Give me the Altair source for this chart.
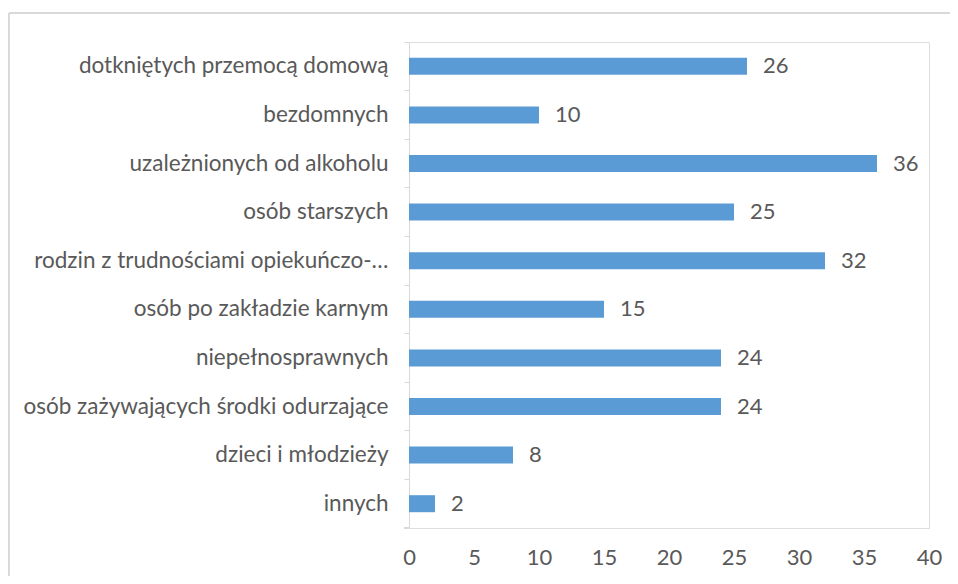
import altair as alt
import pandas as pd

categories = [
    "dotkniętych przemocą domową",
    "bezdomnych",
    "uzależnionych od alkoholu",
    "osób starszych",
    "rodzin z trudnościami opiekuńczo-…",
    "osób po zakładzie karnym",
    "niepełnosprawnych",
    "osób zażywających środki odurzające",
    "dzieci i młodzieży",
    "innych",
]
values = [26, 10, 36, 25, 32, 15, 24, 24, 8, 2]
x_ticks = [0, 5, 10, 15, 20, 25, 30, 35, 40]

df = pd.DataFrame({"kategoria": categories, "liczba": values})

FONT = "Lato"
TXT = "#595959"
BAR = "#5B9BD5"
GRID = "#D9D9D9"

W, H = 520, 486

y_enc = alt.Y(
    "kategoria:N",
    sort=categories,
    title=None,
    scale=alt.Scale(paddingInner=0, paddingOuter=0),
    axis=alt.Axis(
        bandPosition=0,
        domainColor=GRID,
        domainWidth=1,
        tickColor=GRID,
        tickSize=5,
        labelFont=FONT,
        labelFontSize=22.5,
        labelColor=TXT,
        labelPadding=16,
        labelLimit=400,
        labelBound=False,
        labelOffset=0,
    ),
)
x_enc = alt.X(
    "liczba:Q",
    title=None,
    scale=alt.Scale(domain=[0, 40], nice=False),
    axis=alt.Axis(
        values=x_ticks,
        grid=False,
        domain=False,
        ticks=False,
        labelFont=FONT,
        labelFontSize=22,
        labelColor=TXT,
        labelPadding=19,
        labelFlush=False,
    ),
)

bars = alt.Chart(df).mark_bar(size=17, color=BAR).encode(x=x_enc, y=y_enc)

labels = alt.Chart(df).mark_text(
    align="left", baseline="middle", dx=16, font=FONT, fontSize=22, color=TXT
).encode(x="liczba:Q", y=alt.Y("kategoria:N", sort=categories), text="liczba:Q")

bottom_tick = alt.Chart(df).mark_rule(color=GRID, strokeWidth=1).encode(
    x=alt.value(-5), x2=alt.value(0), y=alt.value(H)
)
border_top = alt.Chart(df).mark_rule(color=GRID, strokeWidth=2).encode(
    x=alt.value(-400), x2=alt.value(700), y=alt.value(-29)
)
border_left = alt.Chart(df).mark_rule(color=GRID, strokeWidth=2).encode(
    x=alt.value(-400), y=alt.value(-29), y2=alt.value(700)
)

chart = (
    alt.layer(border_top, border_left, bars, labels, bottom_tick)
    .properties(
        width=W,
        height=H,
        autosize=alt.AutoSizeParams(type="none"),
        padding={"left": 401, "top": 34, "right": 21, "bottom": 48},
    )
    .configure_view(stroke=None)
    .configure(background="white")
)

chart.save("out.html", embed_options={"renderer": "svg", "actions": False})
